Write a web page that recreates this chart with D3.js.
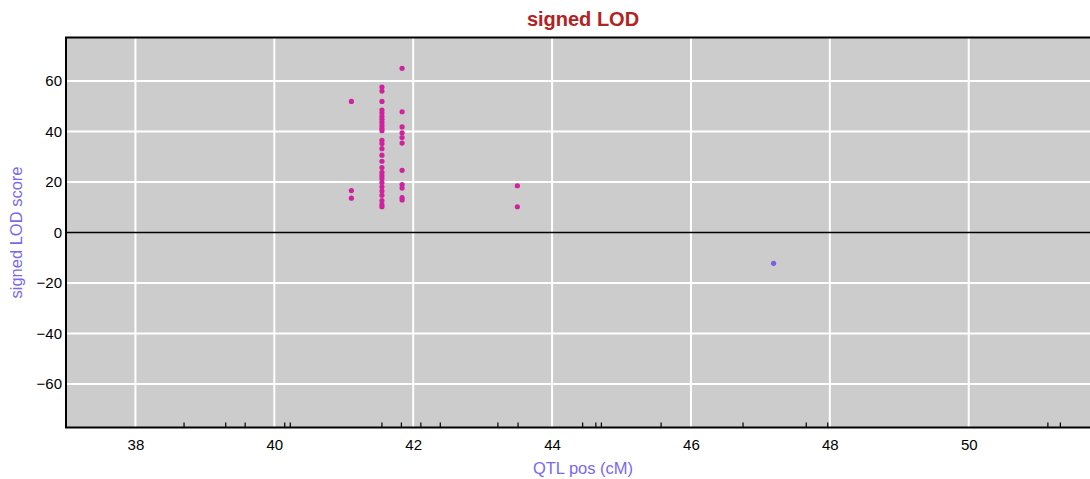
<!DOCTYPE html>
<html>
<head>
<meta charset="utf-8">
<script src="https://cdn.jsdelivr.net/npm/d3@7/dist/d3.min.js"></script>
<style>
  html, body { margin: 0; padding: 0; background: #ffffff; overflow: hidden; }
  text { font-family: "Liberation Sans", Arial, sans-serif; }
</style>
</head>
<body>
<svg id="chart" width="1090" height="479"></svg>
<script>
// QTL positions (cM) and signed LOD scores of each detected QTL
const qtlPos = [
  41.11, 41.11, 41.11,
  41.55, 41.55, 41.55, 41.55, 41.55, 41.55, 41.55, 41.55, 41.55, 41.55, 41.55, 41.55,
  41.55, 41.55, 41.55, 41.55, 41.55, 41.55, 41.55, 41.55, 41.55, 41.55, 41.55, 41.55,
  41.55, 41.55, 41.55,
  41.84, 41.84, 41.84, 41.84, 41.84, 41.84, 41.84, 41.84, 41.84, 41.84, 41.84,
  43.50, 43.50,
  47.19
];
const signedLod = [
  51.9, 16.6, 13.6,
  57.6, 56.0, 51.9, 48.5, 47.3, 46.0, 44.8, 43.6, 42.4, 41.2, 40.3, 36.5,
  35.2, 33.2, 30.6, 28.2, 25.7, 23.8, 22.5, 21.3, 19.8, 18.1, 16.4, 14.7,
  12.6, 11.0, 10.2,
  65.0, 47.8, 41.8, 39.5, 37.6, 35.4, 24.6, 19.0, 17.6, 13.8, 12.9,
  18.5, 10.2,
  -12.2
];
// marker positions along the chromosome, shown as a rug on the x axis
const markerPos = [38.70, 39.30, 39.58, 40.15, 40.23, 41.55, 41.83, 42.11, 42.39,
  43.22, 43.51, 44.44, 44.63, 44.71, 45.57, 46.75, 47.66, 47.97, 51.14, 51.32];
const xTicks = [38, 40, 42, 44, 46, 48, 50];
const yTicks = [-60, -40, -20, 0, 20, 40, 60];

const svg = d3.select("#chart");
const plotLeft = 66, plotTop = 37.5, plotBottom = 427.5, plotRight = 1100;
const x = d3.scaleLinear().domain([37.0, 51.8]).range([plotLeft, plotLeft + 14.8 * 69.44]);
const y = d3.scaleLinear().domain([-77.2, 77.2]).range([plotBottom, plotTop]);

svg.append("rect")
  .attr("x", plotLeft).attr("y", plotTop)
  .attr("width", plotRight - plotLeft).attr("height", plotBottom - plotTop)
  .attr("fill", "#cccccc");

// grid
svg.append("g").selectAll("line").data(xTicks).join("line")
  .attr("x1", d => x(d)).attr("x2", d => x(d))
  .attr("y1", plotTop).attr("y2", plotBottom)
  .attr("stroke", "#ffffff").attr("stroke-width", 2);
svg.append("g").selectAll("line").data(yTicks.filter(d => d !== 0)).join("line")
  .attr("x1", plotLeft).attr("x2", plotRight)
  .attr("y1", d => y(d)).attr("y2", d => y(d))
  .attr("stroke", "#ffffff").attr("stroke-width", 2);

// zero line
svg.append("line")
  .attr("x1", plotLeft).attr("x2", plotRight)
  .attr("y1", y(0)).attr("y2", y(0))
  .attr("stroke", "#000000").attr("stroke-width", 1.5);

// marker rug
svg.append("g").selectAll("line").data(markerPos).join("line")
  .attr("x1", d => x(d)).attr("x2", d => x(d))
  .attr("y1", plotBottom).attr("y2", plotBottom - 5)
  .attr("stroke", "#000000").attr("stroke-width", 1.2);

// frame (top, left, bottom)
svg.append("path")
  .attr("d", `M${plotRight},${plotTop}H${plotLeft}V${plotBottom}H${plotRight}`)
  .attr("fill", "none").attr("stroke", "#000000").attr("stroke-width", 2);

// axes
const xAxis = d3.axisBottom(x).tickValues(xTicks).tickSize(0).tickPadding(12)
  .tickFormat(d3.format("d"));
const gx = svg.append("g").attr("transform", `translate(0,${plotBottom})`).call(xAxis);
gx.select(".domain").remove();
gx.selectAll("text").attr("font-size", 15).attr("fill", "#000")
  .attr("font-family", "'Liberation Sans', Arial, sans-serif");

const yAxis = d3.axisLeft(y).tickValues(yTicks).tickSize(0).tickPadding(4)
  .tickFormat(d => d < 0 ? "\u2212" + Math.abs(d) : String(d));
const gy = svg.append("g").attr("transform", `translate(${plotLeft},0)`).call(yAxis);
gy.select(".domain").remove();
gy.selectAll("text").attr("font-size", 15).attr("fill", "#000")
  .attr("font-family", "'Liberation Sans', Arial, sans-serif");

// points
const pts = qtlPos.map((p, i) => ({ pos: p, lod: signedLod[i] }));
svg.append("g").selectAll("circle").data(pts).join("circle")
  .attr("cx", d => x(d.pos)).attr("cy", d => y(d.lod))
  .attr("r", 2.6)
  .attr("fill", d => d.lod >= 0 ? "#d0229e" : "#7b5fe0");

// titles
svg.append("text")
  .attr("x", 583).attr("y", 26)
  .attr("text-anchor", "middle")
  .attr("font-size", 20).attr("font-weight", "bold")
  .attr("fill", "#b22222")
  .text("signed LOD");

svg.append("text")
  .attr("x", 583).attr("y", 474)
  .attr("text-anchor", "middle")
  .attr("font-size", 16.5)
  .attr("fill", "#7b68ee")
  .text("QTL pos (cM)");

svg.append("text")
  .attr("transform", `translate(22,${y(0)}) rotate(-90)`)
  .attr("text-anchor", "middle")
  .attr("font-size", 16.5)
  .attr("fill", "#7b68ee")
  .text("signed LOD score");
</script>
</body>
</html>
